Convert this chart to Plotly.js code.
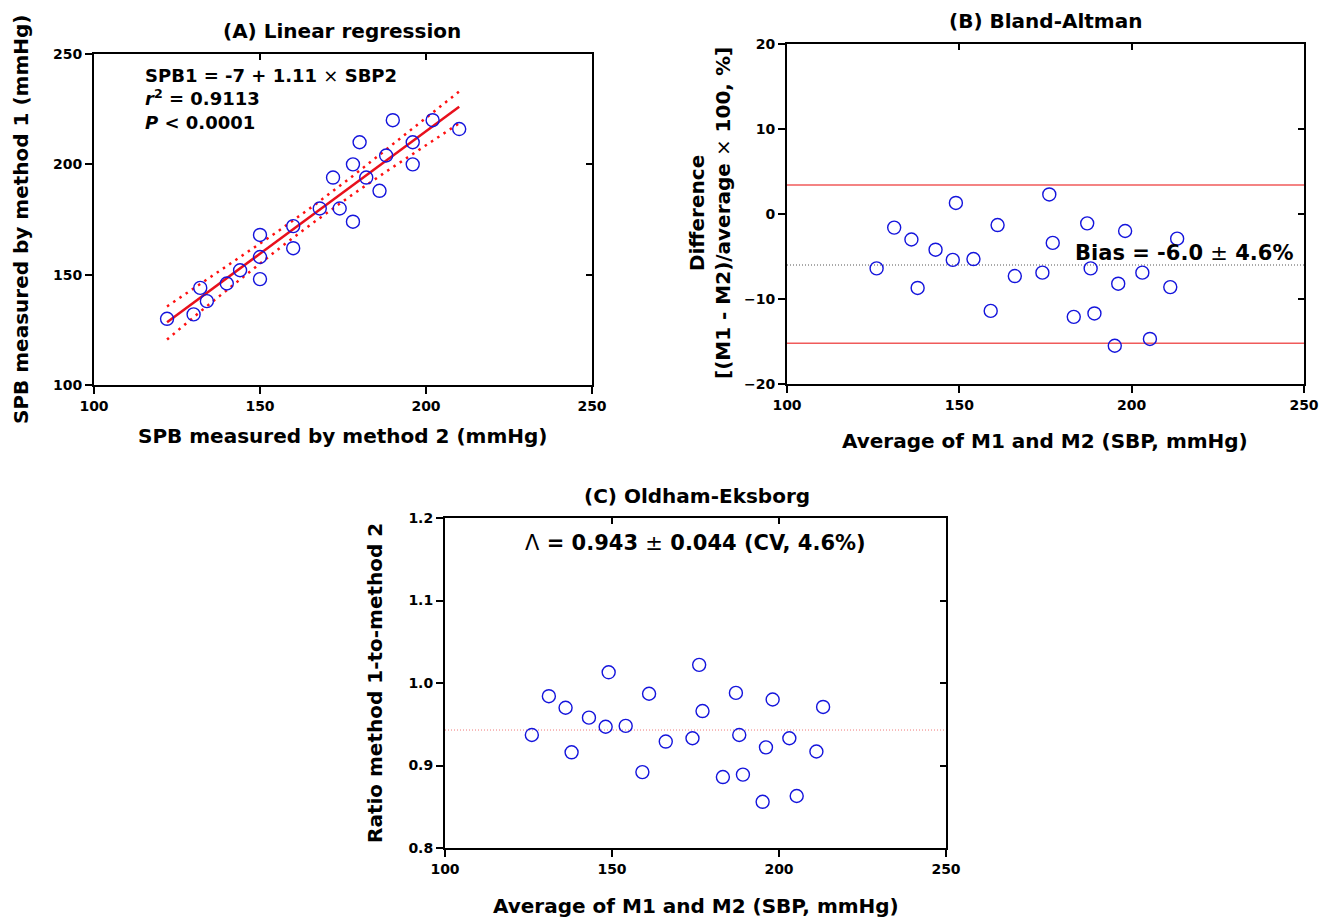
<!DOCTYPE html>
<html>
<head>
<meta charset="utf-8">
<script src="https://cdn.plot.ly/plotly-3.0.1.min.js"></script>
<style>
  html, body { margin: 0; padding: 0; background: #fff; }
  #chart { width: 1323px; height: 917px; }
</style>
</head>
<body>
<div id="chart"></div>
<script>
// ---- Data -------------------------------------------------------------
// (A) paired systolic readings: method 2 (x) vs method 1 (y), mmHg
const sbpMethod2 = [122, 130, 132, 134, 140, 144, 150, 150, 150, 160, 160, 168, 172,
                    174, 178, 178, 180, 182, 186, 188, 190, 196, 196, 202, 210];
const sbpMethod1 = [130, 132, 144, 138, 146, 152, 168, 158, 148, 172, 162, 180, 194,
                    180, 200, 174, 210, 194, 188, 204, 220, 210, 200, 220, 216];

// regression fit and its 95% confidence band
const fitIntercept = -7;
const fitSlope = 1.11;
const bandX     = [122,   133,   144,   155,   166,   177,   188,   199,   210];
const bandUpper = [135.6, 146.7, 157.8, 169.2, 181.1, 193.6, 206.7, 220.0, 233.0];
const bandLower = [120.6, 134.5, 147.8, 161.0, 173.5, 185.4, 196.7, 207.8, 218.6];

// (B) and (C) share the average of the two methods
const avgSBP = [126.0, 131.1, 136.1, 137.9, 143.1, 148.1, 149.0, 154.1, 159.1, 161.1,
                166.1, 174.1, 176.1, 177.1, 183.2, 187.1, 188.1, 189.2, 195.1, 196.1,
                198.1, 203.1, 205.3, 211.2, 213.2];
// (B) percentage difference
const pctDiff = [-6.4, -1.6, -3.0, -8.7, -4.2, -5.4, 1.3, -5.3, -11.4, -1.3,
                 -7.3, -6.9, 2.3, -3.4, -12.1, -1.1, -6.4, -11.7, -15.5, -8.2,
                 -2.0, -6.9, -14.7, -8.6, -2.9];
const biasPct = -6.0;
const limitsPct = [3.4, -15.2];
// (C) ratio method 1 to method 2
const ratio12 = [0.937, 0.984, 0.970, 0.916, 0.958, 0.947, 1.013, 0.948, 0.892, 0.987,
                 0.929, 0.933, 1.022, 0.966, 0.886, 0.988, 0.937, 0.889, 0.856, 0.922,
                 0.980, 0.933, 0.863, 0.917, 0.971];
const meanRatio = 0.943;

// axis ranges and ticks
const sbpRange = [100, 250];
const sbpTicks = [100, 150, 200, 250];
const diffRange = [-20, 20];
const diffTicks = [-20, -10, 0, 10, 20];
const ratioRange = [0.8, 1.2];
const ratioTicks = [0.8, 0.9, 1.0, 1.1, 1.2];

// ---- Layout helpers -----------------------------------------------------
const W = 1323, H = 917;
const px = v => v / W;          // pixel -> paper x
const py = v => 1 - v / H;      // pixel -> paper y
const FONT = 'Verdana, "DejaVu Sans", sans-serif';
const BLUE = '#1414dc';

const tickFont = { family: FONT, size: 14, color: '#000', weight: 'bold' };

function mainAxis(domain, range, ticks, anchor, extra) {
  return Object.assign({
    domain: domain, range: range, tickvals: ticks, anchor: anchor,
    showline: true, linecolor: '#000', linewidth: 2, mirror: false,
    ticks: 'outside', ticklen: 7, tickwidth: 2, tickcolor: '#000',
    showgrid: false, zeroline: false, tickfont: tickFont, fixedrange: true
  }, extra || {});
}
function frameAxis(over, side, range, ticks, anchor) {
  return {
    overlaying: over, side: side, range: range, tickvals: ticks, anchor: anchor,
    showline: true, linecolor: '#000', linewidth: 2,
    ticks: 'inside', ticklen: 6, tickwidth: 2, tickcolor: '#000',
    showticklabels: false, showgrid: false, zeroline: false, fixedrange: true
  };
}

const domA = { x: [px(94), px(592)], y: [py(385), py(54)] };
const domB = { x: [px(787), px(1304)], y: [py(384), py(44)] };
const domC = { x: [px(445), px(946)], y: [py(848), py(518)] };

// ---- Traces -----------------------------------------------------------
const circleMarker = { symbol: 'circle-open', size: 13, color: BLUE, line: { width: 1.4, color: BLUE } };
const fitX = [Math.min(...sbpMethod2), Math.max(...sbpMethod2)];
const fitY = fitX.map(v => fitIntercept + fitSlope * v);
const bandLine = { color: '#ff1010', width: 2.5, dash: '2.5px,5px' };

const traces = [
  { x: bandX, y: bandUpper, mode: 'lines', line: bandLine, xaxis: 'x', yaxis: 'y', hoverinfo: 'skip' },
  { x: bandX, y: bandLower, mode: 'lines', line: bandLine, xaxis: 'x', yaxis: 'y', hoverinfo: 'skip' },
  { x: fitX, y: fitY, mode: 'lines', line: { color: '#e8101c', width: 2.5 }, xaxis: 'x', yaxis: 'y' },
  { x: sbpMethod2, y: sbpMethod1, mode: 'markers', marker: circleMarker, xaxis: 'x', yaxis: 'y' },

  { x: avgSBP, y: pctDiff, mode: 'markers', marker: circleMarker, xaxis: 'x2', yaxis: 'y2' },

  { x: avgSBP, y: ratio12, mode: 'markers', marker: circleMarker, xaxis: 'x3', yaxis: 'y3' },

  // frame subplots (top/right borders with inward ticks)
  { x: [], y: [], xaxis: 'x4', yaxis: 'y4', hoverinfo: 'skip' },
  { x: [], y: [], xaxis: 'x5', yaxis: 'y5', hoverinfo: 'skip' },
  { x: [], y: [], xaxis: 'x6', yaxis: 'y6', hoverinfo: 'skip' }
];

// ---- Reference lines ----------------------------------------------------
const hline = (yref, xref, val, line) => ({
  type: 'line', xref: xref + ' domain', yref: yref, x0: 0, x1: 1, y0: val, y1: val, line: line, layer: 'below'
});
const shapes = [
  hline('y2', 'x2', limitsPct[0], { color: '#f05a5a', width: 1.5 }),
  hline('y2', 'x2', limitsPct[1], { color: '#f05a5a', width: 1.5 }),
  hline('y2', 'x2', biasPct, { color: '#555', width: 1, dash: '1px,2px' }),
  hline('y3', 'x3', meanRatio, { color: '#f07878', width: 1, dash: '1px,2px' })
];

// ---- Text -------------------------------------------------------------
const ann = (x, y, text, size, extra) => Object.assign({
  xref: 'paper', yref: 'paper', x: px(x), y: py(y), text: text, showarrow: false,
  xanchor: 'center', yanchor: 'middle',
  font: { family: FONT, size: size, color: '#000', weight: 'bold' }
}, extra || {});
const thin = s => '<span style="font-weight:normal">' + s + '</span>';

const annotations = [
  ann(342, 31, '(A) Linear regression', 20),
  ann(1045, 21, '(B) Bland-Altman', 20),
  ann(697, 496, '(C) Oldham-Eksborg', 20),

  ann(342, 436, 'SPB measured by method 2 (mmHg)', 20),
  ann(21, 220, 'SPB measured by method 1 (mmHg)', 20, { textangle: -90 }),
  ann(1045, 441, 'Average of M1 and M2 (SBP, mmHg)', 20),
  ann(710, 213, 'Difference<br>[(M1 - M2)/average ' + thin('×') + ' 100, %]', 20, { textangle: -90 }),
  ann(696, 906, 'Average of M1 and M2 (SBP, mmHg)', 20),
  ann(375, 683, 'Ratio method 1-to-method 2', 20, { textangle: -90 }),

  ann(143, 63, 'SPB1 = ' + fitIntercept + ' + ' + fitSlope.toFixed(2) + ' ' + thin('×') + ' SBP2<br>' +
      '<i>r</i><sup>2</sup> = 0.9113<br><i>P</i> &lt; 0.0001', 18,
      { xanchor: 'left', yanchor: 'top', align: 'left' }),
  ann(1296, 253, 'Bias = ' + biasPct.toFixed(1) + ' ' + thin('±') + ' 4.6%', 21, { xanchor: 'right' }),
  ann(695, 543, thin('Λ') + ' = ' + meanRatio.toFixed(3) + ' ' + thin('±') + ' 0.044 (CV, 4.6%)', 21)
];

const layout = {
  width: W, height: H,
  margin: { l: 0, r: 0, t: 0, b: 0 },
  paper_bgcolor: '#fff', plot_bgcolor: 'rgba(0,0,0,0)',
  showlegend: false,
  font: { family: FONT, color: '#000' },

  xaxis:  mainAxis(domA.x, sbpRange, sbpTicks, 'y'),
  yaxis:  mainAxis(domA.y, sbpRange, sbpTicks, 'x'),
  xaxis2: mainAxis(domB.x, sbpRange, sbpTicks, 'y2'),
  yaxis2: mainAxis(domB.y, diffRange, diffTicks, 'x2'),
  xaxis3: mainAxis(domC.x, sbpRange, sbpTicks, 'y3'),
  yaxis3: mainAxis(domC.y, ratioRange, ratioTicks, 'x3', { tickformat: '.1f' }),

  xaxis4: frameAxis('x', 'top', sbpRange, sbpTicks, 'y4'),
  yaxis4: frameAxis('y', 'right', sbpRange, sbpTicks, 'x4'),
  xaxis5: frameAxis('x2', 'top', sbpRange, sbpTicks, 'y5'),
  yaxis5: frameAxis('y2', 'right', diffRange, diffTicks, 'x5'),
  xaxis6: frameAxis('x3', 'top', sbpRange, sbpTicks, 'y6'),
  yaxis6: frameAxis('y3', 'right', ratioRange, ratioTicks, 'x6'),

  shapes: shapes,
  annotations: annotations
};

Plotly.newPlot('chart', traces, layout, { displayModeBar: false, staticPlot: true });
</script>
</body>
</html>
